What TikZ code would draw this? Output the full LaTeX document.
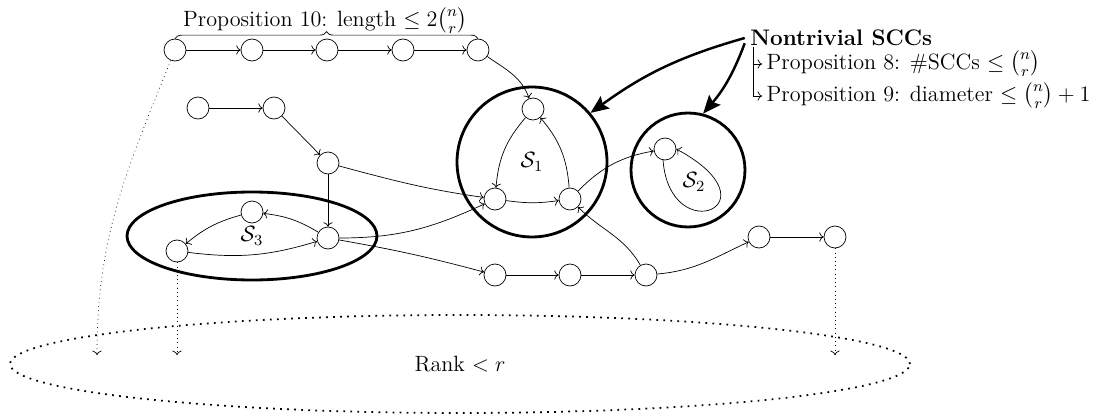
\documentclass[tikz,border=0pt]{standalone}
\usepackage{fix-cm}
\usepackage{amsmath}
\usepackage{fontspec}
\usetikzlibrary{arrows.meta,shapes.geometric,decorations.pathreplacing}

\tikzset{
	vtx/.style={circle, draw, thin, minimum size=0.44cm, inner sep=0pt},
	scc/.style={draw, line width=1.6pt, inner sep=0pt},
	edge/.style={->, thin},
	dots/.style={->, dotted, thin},
	pointer/.style={-{Stealth[length=3.6mm, width=3mm, inset=0.6mm]}, line width=1.4pt},
	note/.style={anchor=west, inner sep=2.5pt},
}

\begin{document}
\begin{tikzpicture}[x=0.02cm, y=-0.02cm, font=\fontsize{12.6}{15}\selectfont]
	\useasboundingbox (0,0) rectangle (1107,419);

	% the three nontrivial SCCs and the low rank part
	\node[scc, circle, minimum size=3cm] (S1) at (532,162) {$\mathcal{S}_1$};
	\node[scc, circle, minimum size=2.28cm] (S2) at (688,170) {};
	\node (S2lab) at (694,182) {$\mathcal{S}_2$};
	\node[scc, ellipse, minimum width=5cm, minimum height=1.76cm] (S3) at (252,236) {$\mathcal{S}_3$};
	\node[ellipse, draw, dash pattern=on 1pt off 3pt, line width=1pt, minimum width=18cm, minimum height=1.96cm] (rank) at (460,364) {Rank $< r$};

	% long path on top
	\foreach \i/\x in {1/175,2/252,3/327,4/403,5/478}
		\node[vtx] (t\i) at (\x,50) {};
	\foreach \i/\j in {1/2,2/3,3/4,4/5}
		\draw[edge] (t\i) -- (t\j);
	\draw[decorate, decoration={brace, amplitude=4pt}] (t1.north) -- (t5.north);
	\node[anchor=south, inner sep=0pt] (len) at (325,34)
		{Proposition 10: length $\leq 2\binom{n}{r}$};

	\node[vtx] (a1) at (198,108) {};
	\node[vtx] (a2) at (274,108) {};
	\node[vtx] (a3) at (328,163) {};

	\node[vtx] (s1t) at (533,109) {};
	\node[vtx] (s1l) at (495,199) {};
	\node[vtx] (s1r) at (570,199) {};
	\node[vtx] (s2) at (665,149) {};
	\node[vtx] (s3r) at (328,238) {};
	\node[vtx] (s3t) at (252,212) {};
	\node[vtx] (s3l) at (177,251) {};

	\foreach \i/\x/\y in {1/495/275,2/570/275,3/646/275,4/759/237,5/835/237}
		\node[vtx] (b\i) at (\x,\y) {};

	% edges
	\draw[edge] (t5) to[out=-35, in=110] (s1t);
	\draw[edge] (a1) -- (a2);
	\draw[edge] (a2) -- (a3);
	\draw[edge] (a3) -- (s3r);
	\draw[edge] (a3) to[out=-15, in=172] (s1l);
	\draw[edge] (s3r) to[bend right=12] (s3t);
	\draw[edge] (s3t) to[bend right=12] (s3l);
	\draw[edge] (s3l) to[bend right=12] (s3r);
	\draw[edge] (s3r) to[out=0, in=205] (s1l);
	\draw[edge] (s3r) to[out=-10, in=165] (b1);
	\draw[edge] (s1t) to[bend right=18] (s1l);
	\draw[edge] (s1l) to[bend right=8] (s1r);
	\draw[edge] (s1r) to[bend right=18] (s1t);
	\draw[edge] (s1r) to[out=45, in=190] (s2);
	\draw[edge] (s2.260) .. controls (670,250) and (780,205) .. (s2.0);
	\draw[edge] (b1) -- (b2);
	\draw[edge] (b2) -- (b3);
	\draw[edge] (b3) to[out=120, in=-45] (s1r);
	\draw[edge] (b3) to[out=5, in=205] (b4);
	\draw[edge] (b4) -- (b5);

	% down to lower rank
	\coordinate (d1) at (97,355);
	\coordinate (d2) at (177,355);
	\coordinate (d3) at (835,355);
	\draw[dots] (t1) to[out=-112, in=90] (d1);
	\draw[dots] (s3l) -- (d2);
	\draw[dots] (b5) -- (d3);

	% notes
	\node[note, inner sep=0pt, font=\fontsize{12.8}{15}\selectfont\bfseries] (nt) at (750,38) {Nontrivial SCCs};
	\node[note] (p8) at (762,64) {Proposition 8: \#SCCs $\leq \binom{n}{r}$};
	\node[note] (p9) at (762,96) {Proposition 9: diameter $\leq \binom{n}{r} + 1$};
	\coordinate (hook) at (753,47);
	\draw[edge] (hook) |- (p8.west);
	\draw[edge] (hook) |- (p9.west);
	\draw[pointer] ([xshift=-3pt]nt.west) to[bend right=10] (S1.40);
	\draw[pointer] ([xshift=-3pt,yshift=-3pt]nt.west) to[bend left=10] (S2.75);
\end{tikzpicture}
\end{document}
